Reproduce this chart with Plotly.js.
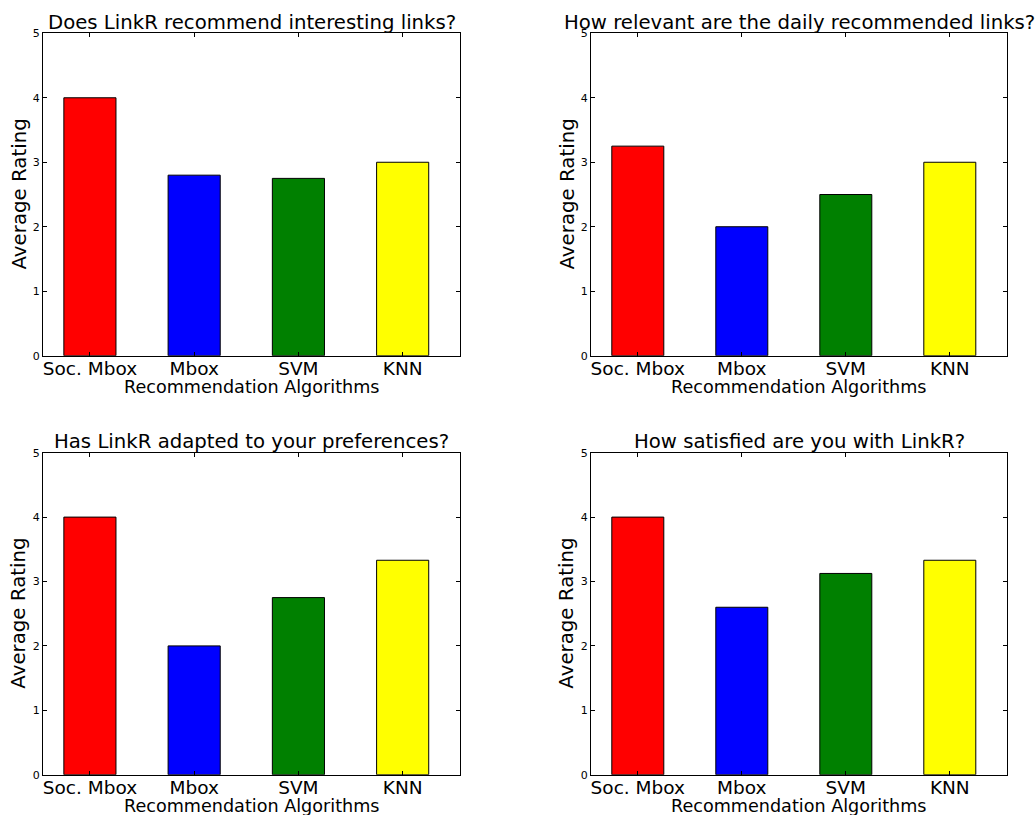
<!DOCTYPE html>
<html>
<head>
<meta charset="utf-8">
<script src="https://cdn.plot.ly/plotly-3.0.1.min.js"></script>
<style>
  html, body { margin: 0; padding: 0; background: #fff; }
  #chart { width: 1035px; height: 815px; }
</style>
</head>
<body>
<div id="chart"></div>
<script>
// Recommendation algorithms compared in the LinkR user survey
const algorithms = ['Soc. Mbox', 'Mbox', 'SVM', 'KNN'];
const barColors = ['#ff0000', '#0000ff', '#008000', '#ffff00'];

// Average rating per question (scale 0-5)
const interestingLinks = [4.0, 2.8, 2.75, 3.0];
const relevantDaily = [3.25, 2.0, 2.5, 3.0];
const adaptedPreferences = [4.0, 2.0, 2.75, 3.33];
const satisfaction = [4.0, 2.6, 3.125, 3.33];

const questions = [
  'Does LinkR recommend interesting links?',
  'How relevant are the daily recommended links?',
  'Has LinkR adapted to your preferences?',
  'How satisfied are you with LinkR?'
];
const ratings = [interestingLinks, relevantDaily, adaptedPreferences, satisfaction];

const yLabel = 'Average Rating';
const xLabel = 'Recommendation Algorithms';

const W = 1035, H = 815;
const font = 'DejaVu Sans, Liberation Sans, sans-serif';

// panel boxes in pixels: [left, right, top, bottom]
const boxes = [
  [43, 460, 33.3, 355.7],
  [591, 1007, 33.3, 355.7],
  [43, 460, 452.7, 774.7],
  [591, 1007, 452.7, 774.7]
];

const px = v => v / W;
const py = v => (H - v) / H;

const data = [];
const layout = {
  width: W, height: H,
  margin: {l: 0, r: 0, t: 0, b: 0},
  paper_bgcolor: '#fff',
  plot_bgcolor: '#fff',
  showlegend: false,
  font: {family: font, color: '#000'},
  annotations: []
};

boxes.forEach((b, i) => {
  const n = i + 1;
  const xa = n === 1 ? 'xaxis' : 'xaxis' + n;
  const ya = n === 1 ? 'yaxis' : 'yaxis' + n;
  const xr = n === 1 ? 'x' : 'x' + n;
  const yr = n === 1 ? 'y' : 'y' + n;

  data.push({
    type: 'bar',
    x: algorithms,
    y: ratings[i],
    width: 0.5,
    xaxis: xr, yaxis: yr,
    marker: {color: barColors, line: {color: '#000', width: 1}},
    hoverinfo: 'x+y'
  });

  layout[xa] = {
    domain: [px(b[0]), px(b[1])],
    anchor: yr,
    type: 'category',
    range: [-0.45, 3.55],
    showline: true, linecolor: '#000', linewidth: 1,
    mirror: 'allticks',
    ticks: 'inside', ticklen: 4, tickcolor: '#000', tickwidth: 1,
    ticklabelstandoff: -4,
    showgrid: false, zeroline: false,
    tickfont: {family: font, size: 18.5, color: '#000'},
    fixedrange: true
  };
  layout[ya] = {
    domain: [py(b[3]), py(b[2])],
    anchor: xr,
    range: [0, 5],
    dtick: 1, tick0: 0,
    showline: true, linecolor: '#000', linewidth: 1,
    mirror: 'allticks',
    ticks: 'inside', ticklen: 4, tickcolor: '#000', tickwidth: 1,
    showgrid: false, zeroline: false,
    tickfont: {family: font, size: 11, color: '#000'},
    fixedrange: true
  };

  const cx = (b[0] + b[1]) / 2;
  const cy = (b[2] + b[3]) / 2;

  // panel title
  layout.annotations.push({
    xref: 'paper', yref: 'paper',
    x: px(cx), y: py(b[2] - 11),
    xanchor: 'center', yanchor: 'middle',
    text: questions[i], showarrow: false,
    font: {family: font, size: 19.7, color: '#000'}
  });
  // y axis title
  layout.annotations.push({
    xref: 'paper', yref: 'paper',
    x: px(b[0] - 24), y: py(cy),
    xanchor: 'center', yanchor: 'middle',
    textangle: -90,
    text: yLabel, showarrow: false,
    font: {family: font, size: 19.8, color: '#000'}
  });
  // x axis title
  layout.annotations.push({
    xref: 'paper', yref: 'paper',
    x: px(cx), y: py(b[3] + 31),
    xanchor: 'center', yanchor: 'middle',
    text: xLabel, showarrow: false,
    font: {family: font, size: 17.6, color: '#000'}
  });
});

Plotly.newPlot('chart', data, layout, {displayModeBar: false, staticPlot: true});
</script>
</body>
</html>
